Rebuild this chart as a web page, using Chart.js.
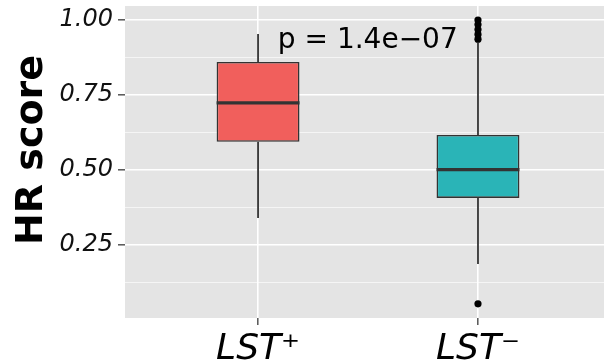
<!DOCTYPE html>
<html>
<head>
<meta charset="utf-8">
<script src="https://cdn.jsdelivr.net/npm/chart.js@4/dist/chart.umd.min.js"></script>
<style>
  html, body { margin: 0; padding: 0; background: #ffffff; }
  canvas { display: block; }
</style>
</head>
<body>
<canvas id="chart" width="604" height="362"></canvas>
<script>
// Groups and their box-plot summaries
const categories = ['LST\u207A', 'LST\u207B'];
const q1 = [0.594, 0.407];
const median = [0.724, 0.501];
const q3 = [0.860, 0.617];
const whiskerLow = [0.340, 0.187];
const whiskerHigh = [0.953, 0.925];
const outliers = [
  [],
  [1.000, 0.985, 0.968, 0.952, 0.936, 0.054]
];
const boxColors = ['#F15F5C', '#2AB4B7'];

// Y axis ticks (labelled) and minor grid positions
const yTickValues = [0.25, 0.50, 0.75, 1.00];
const yTickLabels = ['0.25', '0.50', '0.75', '1.00'];
const yMinorValues = [0.125, 0.375, 0.625, 0.875];

// Wilcoxon test annotation
const pText = 'p = 1.4e\u221207';
const pPos = { x: 1.09, y: 0.907 };

const BOX_WIDTH = 0.377;          // in category units
const HALF = BOX_WIDTH / 2;
const LINE = '#333333';

const datasets = [];

datasets.push({
  type: 'bar',
  data: categories.map((c, i) => ({ x: i + 1, y: [q1[i], q3[i]] })),
  backgroundColor: boxColors,
  borderColor: LINE,
  borderWidth: 1.6,
  borderSkipped: false,
  barPercentage: BOX_WIDTH,
  categoryPercentage: 1,
  order: 3
});

categories.forEach((c, i) => {
  const x = i + 1;
  const seg = (pts, width, order) => ({
    type: 'line',
    data: pts,
    borderColor: LINE,
    borderWidth: width,
    borderCapStyle: 'butt',
    pointRadius: 0,
    fill: false,
    tension: 0,
    order: order
  });
  datasets.push(seg([{ x: x, y: q3[i] }, { x: x, y: whiskerHigh[i] }], 1.8, 2));
  datasets.push(seg([{ x: x, y: q1[i] }, { x: x, y: whiskerLow[i] }], 1.8, 2));
  datasets.push(seg([{ x: x - HALF, y: median[i] }, { x: x + HALF, y: median[i] }], 3.2, 1));
});

datasets.push({
  type: 'scatter',
  data: outliers.flatMap((vals, i) => vals.map(v => ({ x: i + 1, y: v }))),
  backgroundColor: '#000000',
  borderWidth: 0,
  pointRadius: 3.6,
  order: 0
});

const isMajor = v => yTickValues.includes(v);

const panelBackground = {
  id: 'panelBackground',
  beforeDraw(chart) {
    const { ctx, chartArea: a } = chart;
    ctx.save();
    ctx.fillStyle = '#E4E4E4';
    ctx.fillRect(a.left, a.top, a.right - a.left, a.bottom - a.top);
    ctx.restore();
  }
};

const annotations = {
  id: 'annotations',
  afterDraw(chart) {
    const ctx = chart.ctx;
    const xs = chart.scales.x, ys = chart.scales.y;
    ctx.save();
    // p-value label
    ctx.fillStyle = '#000000';
    ctx.font = '28px "DejaVu Sans"';
    ctx.textAlign = 'left';
    ctx.textBaseline = 'alphabetic';
    ctx.fillText(pText, xs.getPixelForValue(pPos.x), ys.getPixelForValue(pPos.y));
    // y axis title
    ctx.translate(42, 150);
    ctx.rotate(-Math.PI / 2);
    ctx.font = 'bold 38px "DejaVu Sans"';
    ctx.textAlign = 'center';
    ctx.fillText('HR score', 0, 0);
    ctx.restore();
  }
};

new Chart(document.getElementById('chart'), {
  type: 'bar',
  data: { datasets },
  plugins: [panelBackground, annotations],
  options: {
    responsive: false,
    animation: false,
    devicePixelRatio: 1,
    layout: { autoPadding: false, padding: { top: 6, right: 0, bottom: 0, left: 0 } },
    plugins: {
      legend: { display: false },
      tooltip: { enabled: false }
    },
    scales: {
      x: {
        type: 'linear',
        min: 0.395,
        max: 2.573,
        offset: false,
        border: { display: false },
        grid: {
          offset: false,
          color: '#FFFFFF',
          lineWidth: 1.6,
          drawTicks: true,
          tickLength: 7,
          tickColor: '#555555',
          tickWidth: 1.5
        },
        afterBuildTicks(scale) {
          scale.ticks = categories.map((c, i) => ({ value: i + 1 }));
        },
        ticks: {
          autoSkip: false,
          maxRotation: 0,
          padding: 3,
          color: '#000000',
          font: { family: 'DejaVu Sans', size: 36, style: 'italic' },
          callback: (value, index) => categories[index]
        },
        afterFit(scale) {
          scale.height = 44;
          scale.paddingLeft = 0;
          scale.paddingRight = 0;
        }
      },
      y: {
        type: 'linear',
        min: 0.0067,
        max: 1.0467,
        border: { display: false },
        grid: {
          color: ctx => (ctx.tick && isMajor(ctx.tick.value)) ? '#FFFFFF' : 'rgba(255,255,255,0.8)',
          lineWidth: ctx => (ctx.tick && isMajor(ctx.tick.value)) ? 1.6 : 0.8,
          drawTicks: true,
          tickLength: 7,
          tickColor: ctx => (ctx.tick && isMajor(ctx.tick.value)) ? '#555555' : 'rgba(0,0,0,0)',
          tickWidth: 1.5
        },
        afterBuildTicks(scale) {
          scale.ticks = yMinorValues.concat(yTickValues)
            .sort((a, b) => a - b)
            .map(v => ({ value: v }));
        },
        ticks: {
          autoSkip: false,
          padding: 5,
          color: '#111111',
          font: { family: 'DejaVu Sans', size: 24, style: 'italic' },
          callback: value => {
            const k = yTickValues.indexOf(value);
            return k >= 0 ? yTickLabels[k] : '';
          }
        },
        afterFit(scale) {
          scale.width = 125;
          scale.paddingTop = 0;
          scale.paddingBottom = 0;
        }
      }
    }
  }
});
</script>
</body>
</html>
